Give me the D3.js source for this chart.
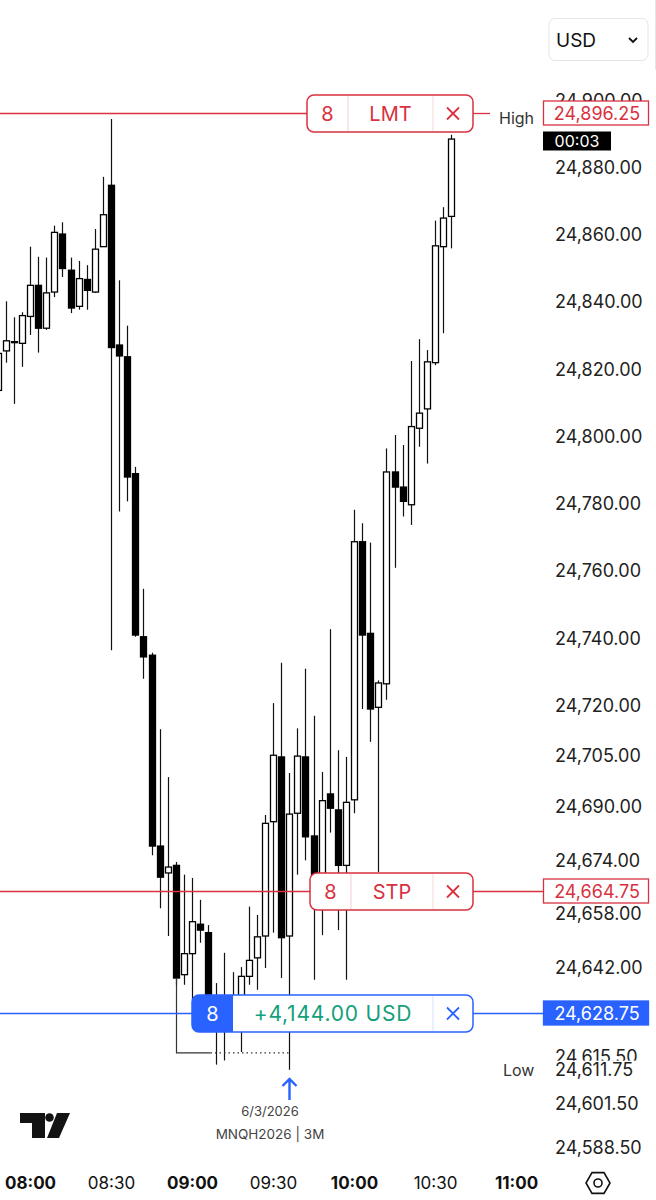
<!DOCTYPE html>
<html>
<head>
<meta charset="utf-8">
<title></title>
<style>
  body { margin: 0; background: #fff; }
  svg text { font-family: Inter, Roboto, sans-serif; }
</style>
</head>
<body>
<script src="https://d3js.org/d3.v7.min.js"></script>
<script>

// MNQH2026, 3 minute candles, first one at 07:48
var firstBar = new Date(2026, 2, 6, 7, 48);
var barMinutes = 3;

var opens  = [24813.75, 24825.50, 24828.00, 24827.75, 24835.75, 24845.00, 24832.25, 24843.00, 24860.25, 24849.50,
              24838.75, 24846.75, 24843.00, 24856.50, 24874.75, 24827.25, 24823.75, 24789.00, 24740.50, 24735.00,
              24678.25, 24670.25, 24672.50, 24640.00, 24646.25, 24655.00, 24652.50, 24631.50, 24626.50, 24633.00,
              24630.00, 24639.50, 24645.00, 24651.50, 24685.50, 24704.75, 24651.50, 24688.00, 24704.75, 24681.25,
              24668.75, 24693.75, 24689.00, 24672.50, 24692.00, 24768.75, 24741.50, 24719.50, 24726.50, 24789.50,
              24785.00, 24779.75, 24802.50, 24808.25, 24822.00, 24856.50, 24865.50];
var highs  = [24827.25, 24840.25, 24835.50, 24837.00, 24856.50, 24853.50, 24853.25, 24862.75, 24863.75, 24853.25,
              24852.25, 24851.00, 24861.75, 24877.25, 24894.50, 24846.50, 24833.00, 24791.00, 24754.75, 24735.75,
              24713.00, 24698.75, 24673.50, 24669.75, 24668.75, 24662.25, 24654.75, 24637.50, 24646.50, 24640.75,
              24642.25, 24660.25, 24657.75, 24687.50, 24720.75, 24732.75, 24700.00, 24713.25, 24731.00, 24717.00,
              24700.25, 24742.75, 24706.75, 24704.75, 24778.25, 24774.25, 24768.50, 24727.50, 24796.50, 24800.50,
              24797.50, 24822.50, 24829.00, 24825.75, 24864.25, 24868.25, 24889.75];
var lows   = [24811.00, 24822.00, 24809.75, 24820.75, 24830.25, 24825.00, 24831.75, 24841.50, 24847.50, 24836.75,
              24837.75, 24837.75, 24842.75, 24856.50, 24736.50, 24777.75, 24780.75, 24740.50, 24728.00, 24675.50,
              24659.75, 24651.50, 24637.00, 24637.00, 24632.50, 24649.50, 24628.00, 24613.25, 24614.50, 24626.00,
              24617.00, 24637.00, 24635.50, 24642.00, 24652.50, 24639.00, 24611.75, 24669.75, 24674.00, 24638.50,
              24651.75, 24682.25, 24653.25, 24638.50, 24688.00, 24719.00, 24709.25, 24670.50, 24721.75, 24761.00,
              24776.25, 24773.75, 24797.00, 24792.00, 24821.25, 24830.75, 24856.00];
var closes = [24824.75, 24828.50, 24828.25, 24836.00, 24845.00, 24832.25, 24842.75, 24860.75, 24850.00, 24838.25,
              24847.00, 24843.50, 24855.75, 24866.00, 24826.50, 24824.00, 24788.00, 24741.00, 24734.50, 24678.25,
              24669.00, 24672.00, 24639.00, 24646.25, 24655.75, 24653.25, 24631.00, 24626.50, 24632.50, 24629.00,
              24639.50, 24644.25, 24651.25, 24685.00, 24705.25, 24651.00, 24687.75, 24705.00, 24681.00, 24667.50,
              24691.75, 24689.50, 24672.50, 24691.25, 24768.75, 24741.00, 24719.00, 24726.75, 24789.50, 24785.00,
              24780.75, 24803.00, 24807.00, 24822.25, 24856.75, 24865.00, 24888.50];

// price axis labels
var priceTicks = [24900, 24880, 24860, 24840, 24820, 24800, 24780, 24760, 24740, 24720, 24705, 24690,
                  24674, 24658, 24642, 24615.50, 24601.50, 24588.50];
var timeTicks = ["08:00", "08:30", "09:00", "09:30", "10:00", "10:30", "11:00"];

// orders
var limitPrice = 24896.25, stopPrice = 24664.75, entryPrice = 24628.75;
var orderQty = 8;
var openPnl = "+4,144.00 USD";
var lowPrice = 24611.75;
var lowBarIndex = 36;
var dateLabel = "6/3/2026", symbolLabel = "MNQH2026 | 3M";
var countdown = "00:03";

var W = 656, H = 1200;
var red = "#d8313f", blue = "#2962ff", green = "#13a07a";

var svg = d3.select("body").append("svg")
    .attr("width", W)
    .attr("height", H);

var parseHM = function(s) {
    var p = s.split(":");
    return new Date(2026, 2, 6, +p[0], +p[1]);
};

var x = d3.scaleTime()
    .domain([parseHM("08:00"), parseHM("11:00")])
    .range([30, 516]);
var y = d3.scaleLinear()
    .domain([limitPrice, entryPrice])
    .range([113, 1012.5]);

var fmt = d3.format(",.2f");

var data = opens.map(function(o, i) {
    return {
        t: new Date(firstBar.getTime() + i * barMinutes * 60000),
        o: o, h: highs[i], l: lows[i], c: closes[i]
    };
});

// candles
var chart = svg.append("g");
var candle = chart.selectAll("g.candle")
    .data(data)
    .enter().append("g")
    .attr("class", "candle");

candle.append("line")
    .attr("x1", function(d) { return Math.round(x(d.t)) + 0.5; })
    .attr("x2", function(d) { return Math.round(x(d.t)) + 0.5; })
    .attr("y1", function(d) { return y(d.h); })
    .attr("y2", function(d) { return y(d.l); })
    .attr("stroke", "#111")
    .attr("stroke-width", 1.2);

candle.append("rect")
    .attr("x", function(d) { return Math.round(x(d.t)) - 2.5; })
    .attr("y", function(d) { return y(Math.max(d.o, d.c)); })
    .attr("width", 6)
    .attr("height", function(d) { return Math.max(1, Math.abs(y(d.o) - y(d.c))); })
    .attr("fill", function(d) { return d.c >= d.o ? "#fff" : "#000"; })
    .attr("stroke", "#000")
    .attr("stroke-width", 1.3);

// low marker bracket
var lowBar = data[lowBarIndex];
var bracketY = y(24616.75);
var bx0 = Math.round(x(data[22].t)) + 0.5;
chart.append("path")
    .attr("d", "M" + bx0 + "," + y(data[22].c) + "V" + bracketY + "H" + (bx0 + 34))
    .attr("fill", "none").attr("stroke", "#333").attr("stroke-width", 1.2);
chart.append("line")
    .attr("x1", bx0 + 34).attr("x2", Math.round(x(lowBar.t)))
    .attr("y1", bracketY).attr("y2", bracketY)
    .attr("stroke", "#333").attr("stroke-width", 1.2)
    .attr("stroke-dasharray", "1.5,3");

// order lines and labels
function orderLine(price, color, lineEnd) {
    var yy = Math.round(y(price)) + 0.5;
    svg.append("line").attr("x1", 0).attr("x2", lineEnd)
        .attr("y1", yy).attr("y2", yy)
        .attr("stroke", color).attr("stroke-width", 1.3);
    return yy;
}
function orderBox(yy, x0, splitX, color, qtyFilled, middleText, middleColor, middleSize) {
    var g = svg.append("g");
    var x1 = 473, h = 37;
    g.append("rect").attr("x", x0).attr("y", yy - h / 2).attr("width", x1 - x0).attr("height", h)
        .attr("rx", 7).attr("fill", "#fff").attr("stroke", color).attr("stroke-width", 1.5);
    if (qtyFilled) {
        g.append("path")
            .attr("d", "M" + splitX + "," + (yy - h / 2) + "H" + (x0 + 7) + "A7,7 0 0 0 " + x0 + "," + (yy - h / 2 + 7) +
                "V" + (yy + h / 2 - 7) + "A7,7 0 0 0 " + (x0 + 7) + "," + (yy + h / 2) + "H" + splitX + "Z")
            .attr("fill", color);
    } else {
        g.append("line").attr("x1", splitX).attr("x2", splitX)
            .attr("y1", yy - h / 2 + 1).attr("y2", yy + h / 2 - 1)
            .attr("stroke", color).attr("stroke-opacity", 0.25);
    }
    g.append("line").attr("x1", 433).attr("x2", 433)
        .attr("y1", yy - h / 2 + 1).attr("y2", yy + h / 2 - 1)
        .attr("stroke", color).attr("stroke-opacity", 0.2);
    g.append("text").attr("x", (x0 + splitX) / 2).attr("y", yy).attr("dy", "0.36em")
        .attr("text-anchor", "middle").attr("font-size", 20)
        .attr("fill", qtyFilled ? "#fff" : color).text(orderQty);
    g.append("text").attr("x", (splitX + 433) / 2).attr("y", yy).attr("dy", "0.36em")
        .attr("text-anchor", "middle").attr("font-size", middleSize || 20)
        .attr("letter-spacing", middleSize ? 0.8 : 0)
        .attr("fill", middleColor).text(middleText);
    g.append("path")
        .attr("d", "M447," + (yy - 6) + "L459," + (yy + 6) + "M459," + (yy - 6) + "L447," + (yy + 6))
        .attr("stroke", color).attr("stroke-width", 1.8);
}
function priceTag(yy, text, color, filled) {
    svg.append("rect").attr("x", 543.5).attr("y", yy - 12.5).attr("width", 105).attr("height", 24)
        .attr("fill", filled ? color : "#fff").attr("stroke", color).attr("stroke-width", 1.3);
    svg.append("text").attr("x", 597).attr("y", yy).attr("dy", "0.35em")
        .attr("text-anchor", "middle").attr("font-size", 18)
        .attr("fill", filled ? "#fff" : color).text(text);
}

// price axis
var yAxis = d3.axisRight(y)
    .tickValues(priceTicks)
    .tickSize(0)
    .tickPadding(0)
    .tickFormat(fmt);
var gY = svg.append("g")
    .attr("transform", "translate(555,0)")
    .call(yAxis);
gY.select(".domain").remove();
gY.selectAll("text")
    .attr("font-family", "Inter, Roboto, sans-serif")
    .attr("font-size", 18)
    .attr("fill", "#222");

// time axis
var xAxis = d3.axisBottom(x)
    .tickValues(timeTicks.map(parseHM))
    .tickSize(0)
    .tickPadding(0)
    .tickFormat(d3.timeFormat("%H:%M"));
var gX = svg.append("g")
    .attr("transform", "translate(0,1183)")
    .call(xAxis);
gX.select(".domain").remove();
gX.selectAll("text")
    .attr("dy", "0.35em")
    .attr("font-family", "Inter, Roboto, sans-serif")
    .attr("font-size", 17)
    .attr("fill", "#111")
    .attr("font-weight", function(d) { return d.getMinutes() === 0 ? 700 : 400; });

// limit order
var yl = orderLine(limitPrice, red, 307);
svg.append("line").attr("x1", 473).attr("x2", 490).attr("y1", yl).attr("y2", yl)
    .attr("stroke", red).attr("stroke-width", 1.3);
orderBox(yl, 307, 348, red, false, "LMT", red);
svg.append("text").attr("x", 499).attr("y", yl + 5).attr("dy", "0.35em")
    .attr("font-size", 16).attr("fill", "#333").text("High");
priceTag(yl, fmt(limitPrice), red, false);
svg.append("rect").attr("x", 543).attr("y", 131.5).attr("width", 68).attr("height", 19).attr("fill", "#000");
svg.append("text").attr("x", 577).attr("y", 141).attr("dy", "0.35em")
    .attr("text-anchor", "middle").attr("font-size", 16).attr("fill", "#fff").text(countdown);

// stop order
var ys = orderLine(stopPrice, red, 310);
svg.append("line").attr("x1", 473).attr("x2", 543).attr("y1", ys).attr("y2", ys)
    .attr("stroke", red).attr("stroke-width", 1.3);
orderBox(ys, 310, 351, red, false, "STP", red);
priceTag(ys, fmt(stopPrice), red, false);

// position
var yp = orderLine(entryPrice, blue, 192);
svg.append("line").attr("x1", 473).attr("x2", 543).attr("y1", yp).attr("y2", yp)
    .attr("stroke", blue).attr("stroke-width", 1.3);
orderBox(yp, 192, 233, blue, true, openPnl, green, 21);
priceTag(yp, fmt(entryPrice), blue, true);

// session low label
var ylow = y(lowPrice);
svg.append("rect").attr("x", 550).attr("y", ylow - 9).attr("width", 100).attr("height", 18).attr("fill", "#fff");
svg.append("text").attr("x", 555).attr("y", ylow).attr("dy", "0.35em")
    .attr("font-size", 18).attr("fill", "#222").text(fmt(lowPrice));
svg.append("text").attr("x", 503).attr("y", ylow + 1).attr("dy", "0.35em")
    .attr("font-size", 16).attr("fill", "#333").text("Low");

// low arrow and symbol info
var ax = Math.round(x(lowBar.t)) + 0.5;
svg.append("path")
    .attr("d", "M" + ax + ",1100V1079M" + (ax - 7) + ",1086L" + ax + ",1079L" + (ax + 7) + ",1086")
    .attr("fill", "none").attr("stroke", blue).attr("stroke-width", 2.4);
svg.append("text").attr("x", 270).attr("y", 1111).attr("dy", "0.35em")
    .attr("text-anchor", "middle").attr("font-size", 13).attr("fill", "#444").text(dateLabel);
svg.append("text").attr("x", 270).attr("y", 1134).attr("dy", "0.35em")
    .attr("text-anchor", "middle").attr("font-size", 13.5).attr("fill", "#444").text(symbolLabel);

// currency button
svg.append("rect").attr("x", 549).attr("y", 18.5).attr("width", 99).attr("height", 42)
    .attr("rx", 6).attr("fill", "#fff").attr("stroke", "#e3e5ea");
svg.append("text").attr("x", 556).attr("y", 40).attr("dy", "0.36em")
    .attr("font-size", 19).attr("fill", "#111").text("USD");
svg.append("path").attr("d", "M629,38L633,42L637,38")
    .attr("fill", "none").attr("stroke", "#111").attr("stroke-width", 1.8);
svg.append("line").attr("x1", 655.5).attr("x2", 655.5).attr("y1", 0).attr("y2", 70)
    .attr("stroke", "#e6e6e6");

// logo
var logo = svg.append("g").attr("fill", "#131313");
logo.append("path").attr("d", "M20,1113H45V1138H32V1123H20Z");
logo.append("circle").attr("cx", 49.5).attr("cy", 1117.5).attr("r", 4.3);
logo.append("path").attr("d", "M57,1113H70L59,1138H47Z");

// settings hexagon
var hx = 598, hy = 1183;
svg.append("path")
    .attr("d", d3.range(6).map(function(i) {
        var a = Math.PI / 3 * i;
        return (i ? "L" : "M") + (hx + 12 * Math.cos(a)) + "," + (hy + 12 * Math.sin(a));
    }).join("") + "Z")
    .attr("fill", "none").attr("stroke", "#111").attr("stroke-width", 1.6);
svg.append("circle").attr("cx", hx).attr("cy", hy).attr("r", 4)
    .attr("fill", "none").attr("stroke", "#111").attr("stroke-width", 1.6);

</script>
</body>
</html>
